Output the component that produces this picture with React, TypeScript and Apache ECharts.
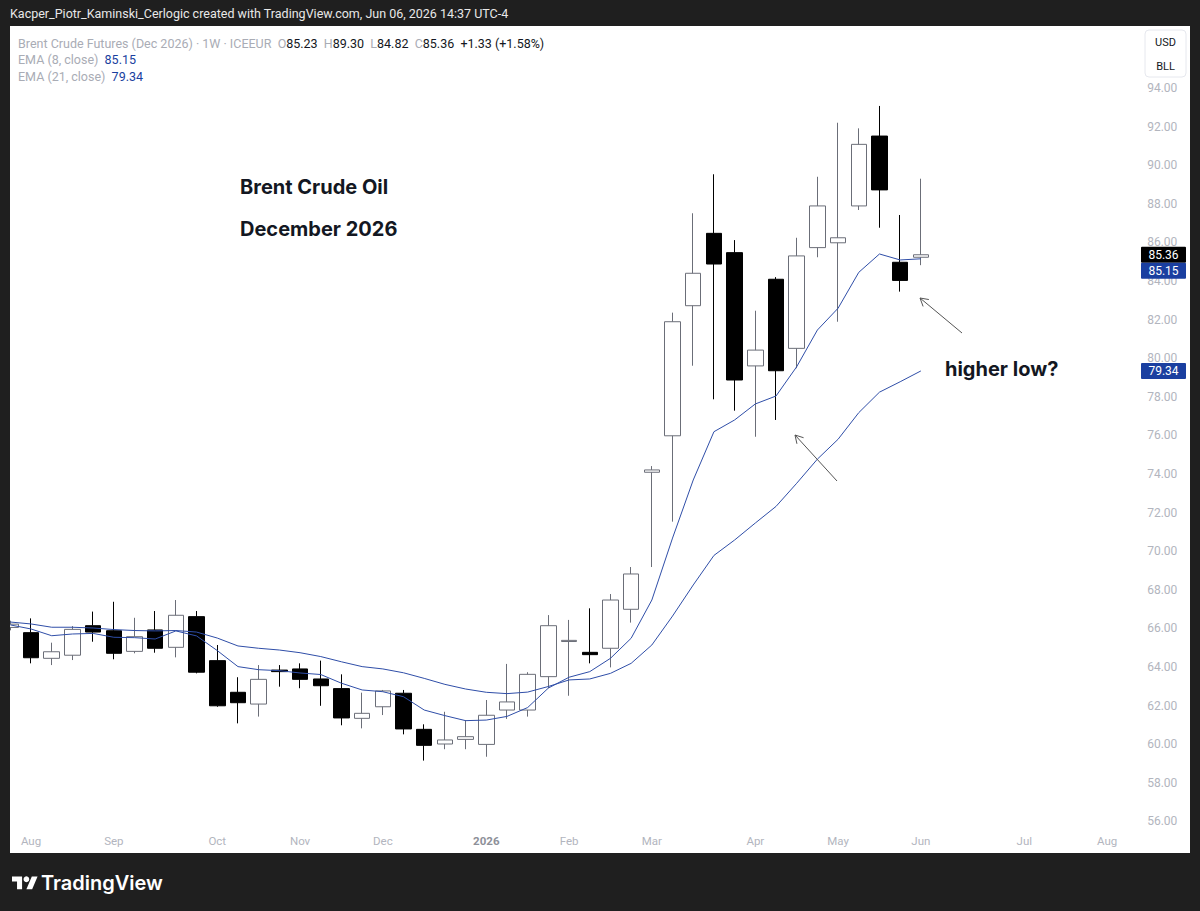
import { useEffect, useRef } from 'react';
import * as echarts from 'echarts';

// ---- data ----
const weeks = [
  '2025-07-28', '2025-08-04', '2025-08-11', '2025-08-18', '2025-08-25',
  '2025-09-01', '2025-09-08', '2025-09-15', '2025-09-22', '2025-09-29',
  '2025-10-06', '2025-10-13', '2025-10-20', '2025-10-27',
  '2025-11-03', '2025-11-10', '2025-11-17', '2025-11-24',
  '2025-12-01', '2025-12-08', '2025-12-15', '2025-12-22', '2025-12-29',
  '2026-01-05', '2026-01-12', '2026-01-19', '2026-01-26',
  '2026-02-02', '2026-02-09', '2026-02-16', '2026-02-23',
  '2026-03-02', '2026-03-09', '2026-03-16', '2026-03-23', '2026-03-30',
  '2026-04-06', '2026-04-13', '2026-04-20', '2026-04-27',
  '2026-05-04', '2026-05-11', '2026-05-18', '2026-05-25',
  '2026-06-01', '2026-06-08', '2026-06-15', '2026-06-22', '2026-06-29',
  '2026-07-06', '2026-07-13', '2026-07-20', '2026-07-27',
  '2026-08-03', '2026-08-10',
];

const monthTicks: Record<string, string> = {
  '2025-08-04': 'Aug', '2025-09-01': 'Sep', '2025-10-06': 'Oct', '2025-11-03': 'Nov',
  '2025-12-01': 'Dec', '2026-01-05': '2026', '2026-02-02': 'Feb', '2026-03-02': 'Mar',
  '2026-04-06': 'Apr', '2026-05-04': 'May', '2026-06-01': 'Jun', '2026-07-06': 'Jul',
  '2026-08-03': 'Aug',
};

const opens = [
  66.05, 65.78, 64.45, 64.61, 66.14, 65.88, 64.81, 65.92, 65.02, 66.61,
  64.33, 62.69, 62.08, 63.84, 63.90, 63.38, 62.88, 61.34, 61.94, 62.64,
  60.77, 60.01, 60.25, 59.99, 61.77, 61.77, 63.50, 65.32, 64.76, 64.97,
  66.99, 74.09, 75.98, 82.72, 86.47, 85.47, 79.60, 84.09, 80.51, 85.73,
  85.98, 87.89, 91.51, 84.97, 85.23,
];
const closes = [
  66.22, 64.48, 64.79, 65.95, 65.81, 64.71, 65.57, 64.97, 66.68, 63.73,
  61.99, 62.15, 63.36, 63.76, 63.36, 63.03, 61.36, 61.60, 62.76, 60.79,
  59.94, 60.22, 60.39, 61.50, 62.19, 63.62, 66.14, 65.38, 64.64, 67.47,
  68.82, 74.21, 81.89, 84.40, 84.88, 78.87, 80.42, 79.35, 85.30, 87.89,
  86.24, 91.08, 88.72, 84.03, 85.36,
];
const lows = [
  65.90, 64.19, 64.10, 64.36, 65.31, 64.40, 64.71, 64.74, 64.50, 63.67,
  61.94, 61.08, 61.43, 62.98, 62.90, 61.99, 60.98, 60.82, 61.51, 60.51,
  59.15, 59.74, 59.74, 59.35, 61.31, 61.43, 62.90, 62.51, 64.19, 63.98,
  66.30, 69.18, 71.53, 79.61, 77.87, 77.28, 75.93, 76.80, 79.48, 85.23,
  81.89, 87.68, 86.76, 83.45, 84.82,
];
const highs = [
  66.40, 66.52, 65.26, 66.12, 66.87, 67.38, 66.55, 66.90, 67.47, 66.90,
  65.14, 63.47, 64.10, 64.10, 64.19, 64.33, 63.62, 62.67, 62.81, 62.81,
  61.03, 61.68, 61.25, 62.29, 64.16, 63.73, 66.69, 66.44, 67.04, 67.78,
  69.18, 74.41, 82.36, 87.51, 89.53, 86.12, 82.46, 84.20, 86.24, 89.40,
  92.20, 91.91, 93.07, 87.42, 89.30,
];
const ema8 = [
  66.18, 65.97, 65.62, 65.71, 65.74, 65.54, 65.52, 65.45, 65.87, 65.61,
  64.85, 64.02, 63.86, 63.81, 63.69, 63.61, 63.16, 62.81, 62.72, 62.46,
  61.77, 61.48, 61.22, 61.25, 61.44, 61.90, 62.91, 63.47, 63.76, 64.45,
  65.49, 67.47, 70.68, 73.69, 76.19, 76.80, 77.63, 78.04, 79.56, 81.46,
  82.59, 84.45, 85.40, 85.09, 85.15,
];
const ema21 = [
  66.33, 66.23, 66.06, 66.06, 66.02, 65.94, 65.89, 65.87, 65.89, 65.81,
  65.50, 65.09, 64.97, 64.88, 64.74, 64.54, 64.27, 64.02, 63.90, 63.70,
  63.41, 63.10, 62.86, 62.69, 62.62, 62.70, 62.99, 63.33, 63.38, 63.67,
  64.19, 65.14, 66.64, 68.25, 69.78, 70.58, 71.46, 72.32, 73.52, 74.77,
  75.80, 77.18, 78.24, 78.78, 79.34,
];

const lastOpen = 85.23, lastHigh = 89.30, lastLow = 84.82, lastClose = 85.36;
const change = '+1.33', changePct = '+1.58%';

// ---- styles ----
const DARK = '#1f1f1f';
const BLUE_LINE = '#2f4ea8';
const BLUE_BOX = '#1a3fa0';
const GRAY_TXT = '#a9acb5';
const AXIS_TXT = '#b2b5be';
const SANS = 'Roboto, "Noto Sans", sans-serif';
const BOLD = 'Inter, Roboto, sans-serif';

function arrow(id: string, tail: number[], head: number[]) {
  const dx = head[0] - tail[0], dy = head[1] - tail[1];
  const L = Math.hypot(dx, dy);
  const ux = dx / L, uy = dy / L;
  const s = 9, a = Math.PI / 6, c = Math.cos(a), sn = Math.sin(a);
  const w1 = [head[0] - s * (ux * c - uy * sn), head[1] - s * (uy * c + ux * sn)];
  const w2 = [head[0] - s * (ux * c + uy * sn), head[1] - s * (uy * c - ux * sn)];
  const color = '#555555';
  return [
    { id: id + 'l', type: 'line', z: 60, shape: { x1: tail[0], y1: tail[1], x2: head[0], y2: head[1] }, style: { stroke: color, lineWidth: 1 } },
    { id: id + 'h', type: 'polyline', z: 60, shape: { points: [w1, head, w2] }, style: { stroke: color, fill: null, lineWidth: 1 } },
  ];
}

let logoRegistered = false;

export default function App() {
  const ref = useRef<HTMLDivElement>(null);
  useEffect(() => {
    if (!ref.current) return;
    if (!logoRegistered) {
      echarts.graphic.registerShape(
        'tvlogo',
        echarts.graphic.extendPath('M14 22H7V11H0V4h14v18zM28 22h-8l7.5-18h8L28 22z', {})
      );
      logoRegistered = true;
    }
    const chart = echarts.init(ref.current, null, { renderer: 'svg' });
    const candleData = weeks.map((_, i) =>
      i < opens.length ? [opens[i], closes[i], lows[i], highs[i]] : '-'
    );

    const legend1 =
      `{g|Brent Crude Futures (Dec 2026) · 1W · ICEEUR  O}{b|${lastOpen.toFixed(2)}}` +
      `{g|  H}{b|${lastHigh.toFixed(2)}}{g|  L}{b|${lastLow.toFixed(2)}}` +
      `{g|  C}{b|${lastClose.toFixed(2)}}{b|  ${change} (${changePct})}`;
    const richLeg = {
      g: { fill: GRAY_TXT, fontSize: 12.5, fontFamily: SANS },
      b: { fill: '#131722', fontSize: 12.5, fontFamily: SANS },
      v: { fill: BLUE_BOX, fontSize: 12.5, fontFamily: SANS },
    };

    const baseGraphic: any[] = [
      { id: 'panel', type: 'rect', z: 0, shape: { x: 10, y: 26, width: 1180, height: 827 }, style: { fill: '#ffffff' } },
      { id: 'leftmask', type: 'rect', z: 50, shape: { x: 0, y: 26, width: 10, height: 830 }, style: { fill: DARK } },
      { id: 'title', type: 'text', z: 60, x: 10, y: 13, style: { text: 'Kacper_Piotr_Kaminski_Cerlogic created with TradingView.com, Jun 06, 2026 14:37 UTC-4', fill: '#e8e8e8', fontSize: 12.5, fontFamily: SANS, verticalAlign: 'middle' } },
      { id: 'leg1', type: 'text', z: 60, x: 18, y: 43, style: { text: legend1, rich: richLeg, verticalAlign: 'middle' } },
      { id: 'leg2', type: 'text', z: 60, x: 18, y: 59.5, style: { text: `{g|EMA (8, close)  }{v|${ema8[ema8.length - 1].toFixed(2)}}`, rich: richLeg, verticalAlign: 'middle' } },
      { id: 'leg3', type: 'text', z: 60, x: 18, y: 76, style: { text: `{g|EMA (21, close)  }{v|${ema21[ema21.length - 1].toFixed(2)}}`, rich: richLeg, verticalAlign: 'middle' } },
      { id: 'unitbox', type: 'rect', z: 60, shape: { x: 1145, y: 30, width: 41, height: 47, r: 4 }, style: { fill: '#ffffff', stroke: '#e6e8ee', lineWidth: 1 } },
      { id: 'usd', type: 'text', z: 61, x: 1165.5, y: 42, style: { text: 'USD', fill: '#131722', fontSize: 11, fontFamily: SANS, align: 'center', verticalAlign: 'middle' } },
      { id: 'bll', type: 'text', z: 61, x: 1165.5, y: 66, style: { text: 'BLL', fill: '#131722', fontSize: 11, fontFamily: SANS, align: 'center', verticalAlign: 'middle' } },
      { id: 'ann1', type: 'text', z: 60, x: 240, y: 187, style: { text: 'Brent Crude Oil', fill: '#131722', fontSize: 20, fontWeight: 'bold', fontFamily: BOLD, verticalAlign: 'middle' } },
      { id: 'ann2', type: 'text', z: 60, x: 240, y: 229, style: { text: 'December 2026', fill: '#131722', fontSize: 20, fontWeight: 'bold', fontFamily: BOLD, verticalAlign: 'middle' } },
      { id: 'ann3', type: 'text', z: 60, x: 945, y: 369, style: { text: 'higher low?', fill: '#131722', fontSize: 20, fontWeight: 'bold', fontFamily: BOLD, verticalAlign: 'middle' } },
      ...arrow('ar1', [962, 333], [920, 298]),
      ...arrow('ar2', [837, 481], [795, 435]),
      { id: 'logo', type: 'tvlogo', z: 60, x: 12, y: 873.5, scaleX: 0.72, scaleY: 0.72, style: { fill: '#ffffff' } },
      { id: 'logodot', type: 'circle', z: 60, shape: { cx: 12 + 20 * 0.72, cy: 873.5 + 8 * 0.72, r: 4 * 0.72 }, style: { fill: '#ffffff' } },
      { id: 'logotext', type: 'text', z: 60, x: 41, y: 883, style: { text: 'TradingView', fill: '#ffffff', fontSize: 20, fontWeight: 600, fontFamily: BOLD, verticalAlign: 'middle' } },
    ];

    const option: any = {
      animation: false,
      backgroundColor: DARK,
      grid: { left: -3.1, right: 61.85, top: 10.8, bottom: 51, containLabel: false },
      xAxis: {
        type: 'category',
        data: weeks,
        boundaryGap: true,
        offset: -33,
        axisLine: { show: false },
        axisTick: { show: false },
        splitLine: { show: false },
        axisLabel: {
          interval: 0,
          color: AXIS_TXT,
          fontSize: 11.5,
          fontFamily: SANS,
          margin: 8,
          formatter: (v: string) => {
            const m = monthTicks[v];
            if (!m) return '';
            return m === '2026' ? '{y|2026}' : m;
          },
          rich: { y: { color: '#8d9099', fontWeight: 'bold', fontSize: 11.5, fontFamily: SANS } },
        },
      },
      yAxis: {
        type: 'value',
        position: 'right',
        min: 54,
        max: 98,
        interval: 2,
        axisLine: { show: false },
        axisTick: { show: false },
        splitLine: { show: false },
        axisLabel: {
          color: AXIS_TXT,
          fontSize: 12,
          fontFamily: SANS,
          margin: 9,
          formatter: (v: number) => (v >= 56 && v <= 94 ? v.toFixed(2) : ''),
        },
      },
      series: [
        {
          type: 'candlestick',
          data: candleData,
          barWidth: 16,
          clip: true,
          itemStyle: {
            color: '#ffffff',
            color0: '#000000',
            borderColor: '#6b6e78',
            borderColor0: '#000000',
            borderWidth: 1,
          },
        },
        {
          type: 'line',
          name: 'EMA 21',
          data: ema21,
          symbol: 'none',
          clip: true,
          lineStyle: { color: BLUE_LINE, width: 1 },
          z: 3,
        },
        {
          type: 'line',
          name: 'EMA 8',
          data: ema8,
          symbol: 'none',
          clip: true,
          lineStyle: { color: BLUE_LINE, width: 1 },
          z: 3,
        },
      ],
      graphic: baseGraphic,
    };
    chart.setOption(option);

    const yp = (v: number) => chart.convertToPixel({ yAxisIndex: 0 }, v) as number;
    const boxH = 16;
    const yClose = yp(lastClose);
    const yE8 = Math.max(yp(ema8[ema8.length - 1]), yClose + boxH);
    const yE21 = yp(ema21[ema21.length - 1]);
    const pbox = (id: string, y: number, fill: string, text: string) => [
      { id: id + 'r', type: 'rect', z: 70, shape: { x: 1141, y: y - boxH / 2, width: 45, height: boxH, r: 1 }, style: { fill } },
      { id: id + 't', type: 'text', z: 71, x: 1163.5, y, style: { text, fill: '#ffffff', fontSize: 12, fontFamily: SANS, align: 'center', verticalAlign: 'middle' } },
    ];
    chart.setOption({
      graphic: [
        ...baseGraphic,
        ...pbox('pc', yClose, '#000000', lastClose.toFixed(2)),
        ...pbox('pe8', yE8, BLUE_BOX, ema8[ema8.length - 1].toFixed(2)),
        ...pbox('pe21', yE21, BLUE_BOX, ema21[ema21.length - 1].toFixed(2)),
      ],
    });

    return () => chart.dispose();
  }, []);

  return (
    <div
      ref={ref}
      style={{ position: 'absolute', left: 0, top: 0, width: 1200, height: 911 }}
    />
  );
}
